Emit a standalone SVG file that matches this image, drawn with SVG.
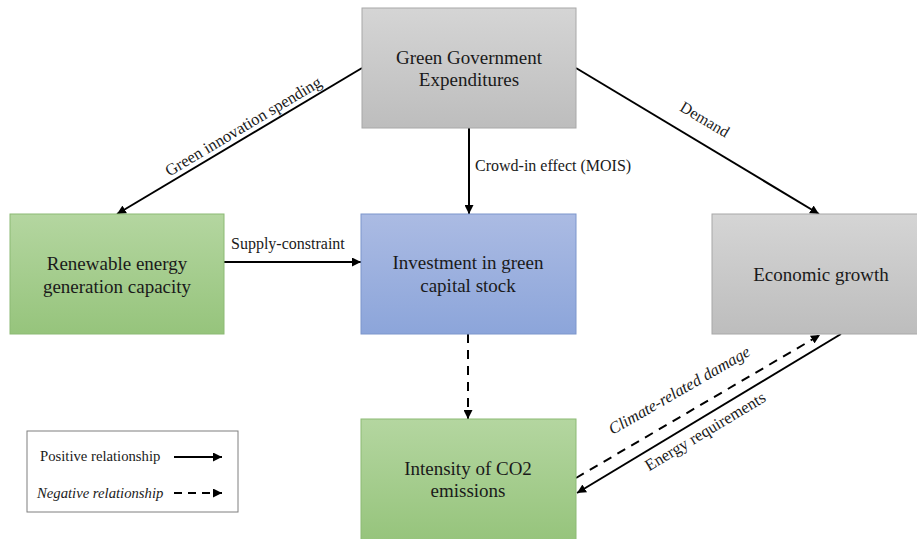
<svg xmlns="http://www.w3.org/2000/svg" width="917" height="539" viewBox="0 0 917 539">
<defs>
<linearGradient id="gGrey" x1="0" y1="0" x2="0" y2="1"><stop offset="0" stop-color="#d5d5d5"/><stop offset="1" stop-color="#bdbdbd"/></linearGradient>
<linearGradient id="gGreen" x1="0" y1="0" x2="0" y2="1"><stop offset="0" stop-color="#b4d6a0"/><stop offset="1" stop-color="#96c47c"/></linearGradient>
<linearGradient id="gBlue" x1="0" y1="0" x2="0" y2="1"><stop offset="0" stop-color="#abbbe3"/><stop offset="1" stop-color="#8ca5da"/></linearGradient>
<marker id="ah" viewBox="0 0 10 10" refX="10" refY="5" markerWidth="9" markerHeight="9" markerUnits="userSpaceOnUse" orient="auto"><path d="M0,0 L10,5 L0,10 z" fill="#000"/></marker>
</defs>
<style>
.box{stroke-width:1}
.grey{fill:url(#gGrey);stroke:#a8a8a8}
.green{fill:url(#gGreen);stroke:#8cba74}
.blue{fill:url(#gBlue);stroke:#7d96cc}
.t{font-family:"Liberation Serif","Times New Roman",serif;font-size:19px;fill:#1a1a1a;text-anchor:middle}
.l{font-family:"Liberation Serif","Times New Roman",serif;font-size:16px;fill:#1a1a1a}
.r{font-size:16.5px}
.lg{font-size:14.7px}
.c{stroke:#000;stroke-width:2;fill:none;marker-end:url(#ah)}
.d{stroke-dasharray:9,7}
</style>
<rect width="917" height="539" fill="#fff"/>
<g id="connectors">
<line class="c" x1="362" y1="68" x2="117" y2="214"/>
<line class="c" x1="576" y1="68" x2="819" y2="214"/>
<line class="c" x1="469" y1="128" x2="469" y2="214"/>
<line class="c" x1="224" y1="262" x2="361" y2="262"/>
<line class="c d" x1="468" y1="334" x2="468" y2="419"/>
<line class="c d" x1="576" y1="478" x2="820" y2="335"/>
<line class="c" x1="841" y1="334" x2="577" y2="493"/>
<text class="l r" transform="translate(246,131) rotate(-30.8)" text-anchor="middle">Green innovation spending</text>
<text class="l" transform="translate(702,124) rotate(31)" text-anchor="middle">Demand</text>
<text class="l" x="475" y="171">Crowd-in effect (MOIS)</text>
<text class="l" x="231" y="249">Supply-constraint</text>
<text class="l r" transform="translate(682,395) rotate(-30)" text-anchor="middle" font-style="italic">Climate-related damage</text>
<text class="l r" transform="translate(708,436) rotate(-31)" text-anchor="middle">Energy requirements</text>
</g>
<g id="node-gge">
<rect class="box grey" x="362" y="8" width="214" height="120"/>
<text class="t" x="469" y="64">Green Government</text>
<text class="t" x="469" y="86">Expenditures</text>
</g>
<g id="node-renewable">
<rect class="box green" x="10" y="214" width="214" height="120"/>
<text class="t" x="117" y="270">Renewable energy</text>
<text class="t" x="117" y="293">generation capacity</text>
</g>
<g id="node-investment">
<rect class="box blue" x="361" y="214" width="215" height="120"/>
<text class="t" x="468" y="269">Investment in green</text>
<text class="t" x="468" y="292">capital stock</text>
</g>
<g id="node-growth">
<rect class="box grey" x="712" y="214" width="216" height="120"/>
<text class="t" x="821" y="281">Economic growth</text>
</g>
<g id="node-co2">
<rect class="box green" x="361" y="419" width="215" height="122"/>
<text class="t" x="468" y="475">Intensity of CO2</text>
<text class="t" x="468" y="497">emissions</text>
</g>
<g id="legend">
<rect x="27" y="431" width="211" height="81" fill="#fff" stroke="#7f7f7f" stroke-width="1"/>
<text class="l lg" x="40" y="461">Positive relationship</text>
<line class="c" x1="174" y1="457" x2="222" y2="457"/>
<text class="l lg" x="37" y="498" font-style="italic">Negative relationship</text>
<line class="c" x1="174" y1="493" x2="222" y2="493" stroke-dasharray="8,6"/>
</g>
</svg>
